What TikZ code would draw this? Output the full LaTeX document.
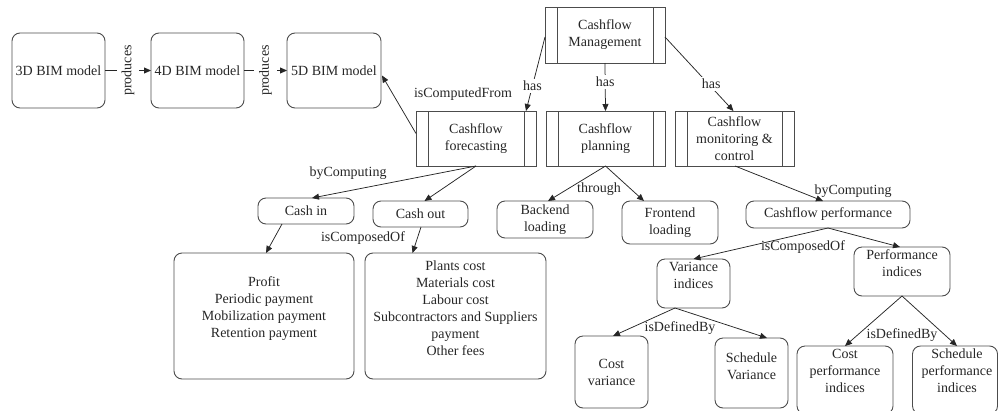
\documentclass[tikz,border=0pt]{standalone}
\usepackage{fontspec}
\setmainfont{Liberation Serif}
\usetikzlibrary{arrows.meta,calc}
\begin{document}
\begin{tikzpicture}[x=1pt,y=-1pt,
  font=\fontsize{14}{17}\selectfont,
  every node/.style={text=black!85, outer sep=0pt, inner sep=2pt},
  rbox/.style={draw=black!70, line width=0.9pt, rounded corners=8pt, align=center},
  procbox/.style={draw=black!70, line width=0.9pt, align=center,
    minimum width=120pt, minimum height=55pt,
    path picture={\draw[black!70, line width=0.9pt]
      ([xshift=12pt]path picture bounding box.north west) -- ([xshift=12pt]path picture bounding box.south west)
      ([xshift=-12pt]path picture bounding box.north east) -- ([xshift=-12pt]path picture bounding box.south east);}},
  conn/.style={draw=black!85, line width=0.75pt, -{Triangle[length=7pt,width=6pt]}},
  gaplbl/.style={fill=white, inner sep=2pt},
  boxtext/.style={align=center}]

\useasboundingbox (0,0) rectangle (998,410);
\clip (0,0) rectangle (998,410);

% BIM model chain
\node[rbox, minimum width=93pt, minimum height=75pt] (m3) at (58.5,70.5) {3D BIM model};
\node[rbox, minimum width=93pt, minimum height=75pt] (m4) at (197.5,70.5) {4D BIM model};
\node[rbox, minimum width=94pt, minimum height=75pt] (m5) at (334,70.5) {5D BIM model};

% cashflow processes
\node[procbox, minimum height=56pt] (mgmt) at (605,35) {Cashflow\\Management};
\node[procbox] (fore) at (476,138.5) {Cashflow\\forecasting};
\node[procbox, minimum width=119pt] (plan) at (605.5,138.5) {Cashflow\\planning};
\node[procbox, minimum width=119pt] (moni) at (734.5,138.5) {Cashflow\\monitoring \&\\control};

% forecasting branch
\node[rbox, minimum width=96pt, minimum height=26pt] (cin) at (306,211) {Cash in};
\node[rbox, minimum width=95pt, minimum height=26pt] (cout) at (420.5,214) {Cash out};
\node[rbox, minimum width=180pt, minimum height=126pt] (inc) at (264,316) {};
\node[boxtext] (inc-t) at ([yshift=7.5pt]inc.center)
  {Profit\\Periodic payment\\Mobilization payment\\Retention payment};
\node[rbox, minimum width=181pt, minimum height=126pt] (outc) at (455.5,316) {};
\node[boxtext] (outc-t) at ([yshift=7.5pt]outc.center)
  {Plants cost\\Materials cost\\Labour cost\\Subcontractors and Suppliers\\payment\\Other fees};

% planning branch
\node[rbox, minimum width=96pt, minimum height=37pt] (back) at (545,219.5) {Backend\\loading};
\node[rbox, minimum width=96pt, minimum height=43pt] (front) at (670,222.5) {Frontend\\loading};

% monitoring branch
\node[rbox, minimum width=164pt, minimum height=27pt] (perf) at (828,214.5) {Cashflow performance};
\node[rbox, minimum width=73pt, minimum height=49pt] (vari) at (693.5,283.5) {};
\node[boxtext] (vari-t) at ([yshift=8pt]vari.center) {Variance\\indices};
\node[rbox, minimum width=96pt, minimum height=49pt] (pind) at (902,271.5) {};
\node[boxtext] (pind-t) at ([yshift=8pt]pind.center) {Performance\\indices};
\node[rbox, minimum width=73pt, minimum height=72pt] (cvar) at (611.5,372) {Cost\\variance};
\node[rbox, minimum width=73pt, minimum height=70pt] (svar) at (751.5,373) {};
\node[boxtext] (svar-t) at ([yshift=7pt]svar.center) {Schedule\\Variance};
\node[rbox, minimum width=96pt, minimum height=68pt] (cpi) at (845,380) {};
\node[boxtext] (cpi-t) at ([yshift=9pt]cpi.center) {Cost\\performance\\indices};
\node[rbox, minimum width=85pt, minimum height=68pt] (spi) at (955,380) {};
\node[boxtext] (spi-t) at ([xshift=2pt,yshift=9pt]spi.center) {Schedule\\performance\\indices};

% connectors
\draw[conn] (m3) -- node[gaplbl, rotate=90, inner xsep=1pt, inner ysep=5pt] (p1) {produces} (m4);
\draw[conn] (m4) -- node[gaplbl, rotate=90, inner xsep=1pt, inner ysep=5pt] (p2) {produces} (m5);

\draw[conn] ($(mgmt.west)+(0,2)$) -- node[gaplbl, pos=0.66] (h1) {has} ($(fore.north east)+(-10,0)$);
\draw[conn] (mgmt.south) -- node[gaplbl, pos=0.4] (h2) {has} (plan.north);
\draw[conn] ($(mgmt.east)+(0,2)$) -- node[gaplbl, pos=0.63, xshift=3pt] (h3) {has} ($(moni.north)+(-1,0)$);

\draw[conn] ($(fore.west)+(0,-5)$) -- ($(m5.east)+(1,5)$);
\node (l-icf) at (463,94) {isComputedFrom};

\draw[conn] (fore.south) -- ($(cin.north)+(6,0)$);
\draw[conn] (fore.south) -- ($(cout.north)+(4,0)$);
\node (l-bc1) at (348,173) {byComputing};

\draw[conn] ($(cin.south)+(-24,0)$) -- ($(inc.north)+(2,0)$);
\draw[conn] ($(cout.south)+(0.5,0)$) -- ($(outc.north)+(-43,0)$);
\node (l-ico1) at (363,238) {isComposedOf};

\draw[conn] (plan.south) -- ($(back.north)+(3,0)$);
\draw[conn] (plan.south) -- ($(front.north)+(-26,0)$);
\node (l-thr) at (599,189) {through};

\draw[conn] ($(moni.south)+(0.5,0)$) -- ($(perf.north)+(-5,0)$);
\node (l-bc2) at (853,191) {byComputing};

\draw[conn] (perf.south) -- (vari.north);
\draw[conn] (perf.south) -- ($(pind.north)+(-2,0)$);
\node (l-ico2) at (803,247) {isComposedOf};

\draw[conn] ($(vari.south)+(-18.5,0)$) -- ($(cvar.north)+(1.5,0)$);
\draw[conn] ($(vari.south)+(-18.5,0)$) -- ($(svar.north)+(15.5,0)$);
\node (l-idb1) at (680,328) {isDefinedBy};

\draw[conn] (pind.south) -- (cpi.north);
\draw[conn] (pind.south) -- ($(spi.north)+(2,0)$);
\node (l-idb2) at (902,335) {isDefinedBy};
\end{tikzpicture}
\end{document}
